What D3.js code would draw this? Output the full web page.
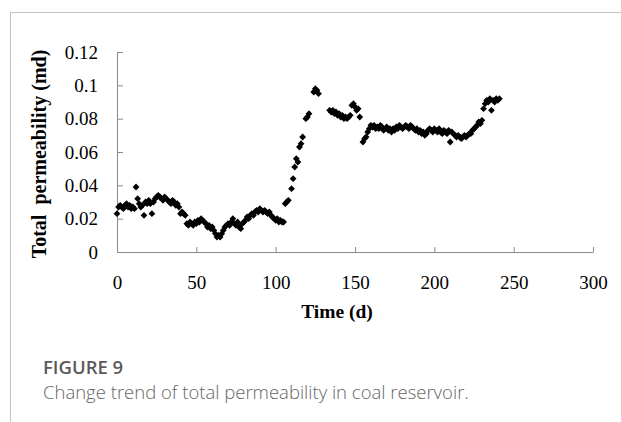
<!DOCTYPE html>
<html lang="en">
<head>
<meta charset="utf-8">
<title>Total permeability</title>
<script src="https://cdn.jsdelivr.net/npm/d3@7/dist/d3.min.js"></script>
<style>
  body { margin: 0; background: #fff; }
  svg { display: block; }
</style>
</head>
<body>
<script>
var width = 621;
var height = 422;

// time (d) of every measured point
var timeDays = [
  0,1,2,3,4,5,6,7,8,9,
  10,11,12,13,14,15,16,17,18,19,
  20,21,22,23,24,25,26,27,28,29,
  30,31,32,33,34,35,36,37,38,39,
  40,41,42,43,44,45,46,47,48,49,
  50,51,52,53,54,55,56,57,58,59,
  60,61,62,63,64,65,66,67,68,69,
  70,71,72,73,74,75,76,77,78,79,
  80,81,82,83,84,85,86,87,88,89,
  90,91,92,93,94,95,96,97,98,99,
  100,101,102,103,104,105,
  106,107,108,110,111,112,113,114,115,116,117,119,120,121,124,125,126,127,
  134,135,136,137,138,139,140,141,142,143,144,145,146,147,148,149,150,151,152,153,
  155,156,157,158,159,160,161,162,163,164,165,166,167,168,169,
  170,171,172,173,174,175,176,177,178,179,
  180,181,182,183,184,185,186,187,188,189,
  190,191,192,193,194,195,196,197,198,199,
  200,201,202,203,204,205,206,207,208,209,
  210,211,212,213,214,215,216,217,218,219,
  220,221,222,223,224,225,226,227,228,229,
  230,231,232,233,234,235,236,237,238,239,240,241
];

// total permeability (md)
var permMd = [
  .023,.027,.028,.027,.026,.028,.029,.027,.028,.026,
  .027,.026,.039,.032,.029,.027,.028,.022,.030,.029,
  .031,.029,.023,.030,.032,.033,.034,.033,.032,.031,
  .033,.032,.031,.030,.029,.031,.030,.028,.029,.027,
  .023,.024,.023,.022,.017,.016,.018,.017,.016,.018,
  .017,.019,.018,.020,.019,.018,.017,.015,.016,.014,
  .015,.013,.011,.009,.010,.009,.011,.013,.015,.016,
  .017,.016,.018,.020,.017,.016,.018,.015,.014,.017,
  .018,.019,.021,.020,.022,.023,.022,.024,.025,.024,
  .026,.025,.024,.025,.024,.023,.024,.022,.021,.020,
  .019,.020,.018,.019,.018,.018,
  .029,.030,.031,.038,.044,.051,.056,.054,.063,.065,.069,.080,.081,.083,.096,.098,.097,.095,
  .085,.084,.085,.083,.084,.082,.083,.081,.082,.080,.081,.080,.081,.082,.088,.089,.087,.085,.086,.081,
  .066,.068,.069,.072,.074,.076,.075,.076,.074,.075,.074,.076,.075,.073,.074,
  .075,.073,.074,.072,.074,.073,.075,.074,.076,.075,
  .074,.075,.076,.075,.074,.076,.075,.074,.073,.074,
  .072,.073,.071,.072,.070,.071,.073,.074,.073,.072,
  .074,.073,.072,.074,.072,.071,.073,.072,.071,.073,
  .066,.072,.071,.070,.069,.070,.069,.068,.069,.070,
  .069,.070,.071,.071,.073,.074,.075,.076,.078,.077,
  .079,.086,.089,.091,.090,.092,.085,.091,.090,.092,.091,.092
];

var xTicks = [0, 50, 100, 150, 200, 250, 300];
var yTicks = [0, 0.02, 0.04, 0.06, 0.08, 0.1, 0.12];
var yTickLabels = ["0", "0.02", "0.04", "0.06", "0.08", "0.1", "0.12"];

var svg = d3.select("body").append("svg")
  .attr("width", width)
  .attr("height", height);

// frame of the figure panel
svg.append("line")
  .attr("x1", 10).attr("y1", 12.5).attr("x2", width).attr("y2", 12.5)
  .attr("stroke", "#c4c4c4").attr("stroke-width", 1);
svg.append("line")
  .attr("x1", 10.5).attr("y1", 12).attr("x2", 10.5).attr("y2", height)
  .attr("stroke", "#c4c4c4").attr("stroke-width", 1);

var x = d3.scaleLinear().domain([0, 300]).range([117, 593]);
var y = d3.scaleLinear().domain([0, 0.12]).range([252, 52]);

var xAxis = d3.axisBottom(x)
  .tickValues(xTicks)
  .tickSizeInner(-5)
  .tickSizeOuter(0)
  .tickPadding(24);

var yAxis = d3.axisLeft(y)
  .tickValues(yTicks)
  .tickFormat(function(d, i) { return yTickLabels[i]; })
  .tickSizeInner(-6)
  .tickSizeOuter(0)
  .tickPadding(19);

var gx = svg.append("g")
  .attr("transform", "translate(0," + y(0) + ")")
  .call(xAxis);
var gy = svg.append("g")
  .attr("transform", "translate(" + x(0) + ",0)")
  .call(yAxis);

[gx, gy].forEach(function(g) {
  g.selectAll("path, line").attr("stroke", "#8a8a8a");
  g.selectAll("text")
    .attr("fill", "#000")
    .style("font-family", "'Liberation Serif', 'Times New Roman', serif")
    .style("font-size", "19px");
});

// data points (diamond markers)
var diamond = d3.symbol().type(d3.symbolSquare).size(23);
svg.append("g")
  .selectAll("path")
  .data(timeDays)
  .enter()
  .append("path")
  .attr("d", diamond)
  .attr("transform", function(d, i) {
    return "translate(" + x(d) + "," + y(permMd[i]) + ") rotate(45)";
  })
  .attr("fill", "#000");

// axis titles
svg.append("text")
  .attr("x", 337)
  .attr("y", 318)
  .attr("text-anchor", "middle")
  .style("font-family", "'Liberation Serif', 'Times New Roman', serif")
  .style("font-weight", "bold")
  .style("font-size", "19.5px")
  .text("Time (d)");

svg.append("text")
  .attr("transform", "translate(46,154) rotate(-90)")
  .attr("text-anchor", "middle")
  .style("font-family", "'Liberation Serif', 'Times New Roman', serif")
  .style("font-weight", "bold")
  .style("font-size", "20px")
  .style("white-space", "pre")
  .text("Total  permeability (md)");

// caption
svg.append("text")
  .attr("x", 43)
  .attr("y", 374)
  .attr("fill", "#5a5a5a")
  .style("font-family", "'Open Sans', 'Noto Sans', sans-serif")
  .style("font-weight", "600")
  .style("font-size", "18.5px")
  .text("FIGURE 9");

svg.append("text")
  .attr("x", 43)
  .attr("y", 399)
  .attr("fill", "#666")
  .style("font-family", "'Open Sans', 'Noto Sans', sans-serif")
  .style("font-weight", "300")
  .style("font-size", "18.5px")
  .text("Change trend of total permeability in coal reservoir.");
</script>
</body>
</html>
